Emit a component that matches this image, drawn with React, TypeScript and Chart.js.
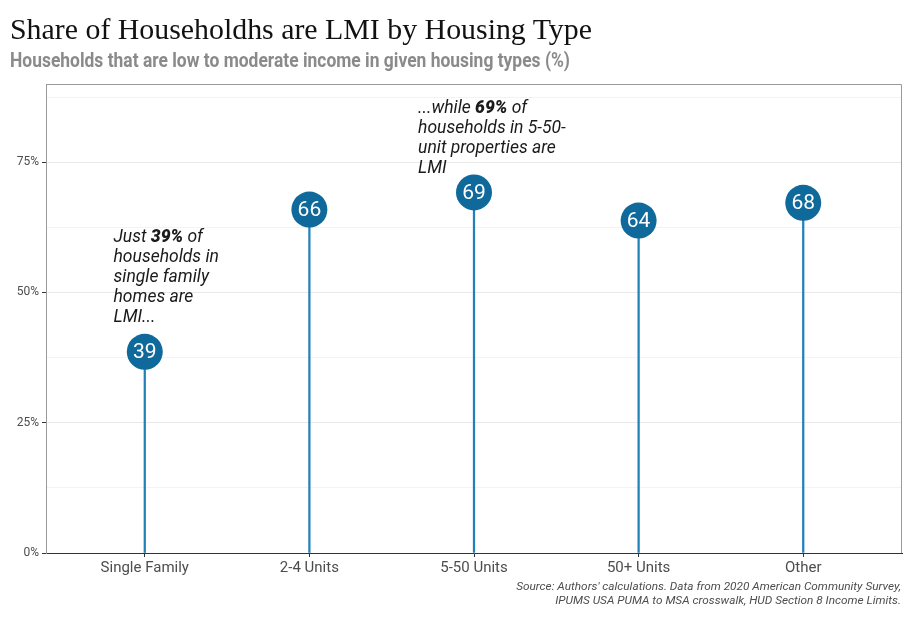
import React, { useEffect, useLayoutEffect, useRef } from "react";
import { Chart, registerables } from "chart.js";

Chart.register(...registerables);

// ---------- data ----------
const categories = ["Single Family", "2-4 Units", "5-50 Units", "50+ Units", "Other"];
const shares = [38.6, 65.9, 69.2, 63.8, 67.2];
const shareLabels = ["39", "66", "69", "64", "68"];
const yTickValues = [0, 12.5, 25, 37.5, 50, 62.5, 75, 87.5];
const yMajorStep = 25;
const yMax = 90;

const titleText = "Share of Householdhs are LMI by Housing Type";
const subtitleText = "Households that are low to moderate income in given housing types (%)";
const sourceLines = [
  "Source: Authors' calculations. Data from 2020 American Community Survey,",
  "IPUMS USA PUMA to MSA crosswalk, HUD Section 8 Income Limits.",
];

type Seg = [string, boolean];
const noteSingleFamily: Seg[][] = [
  [["Just ", false], ["39%", true], [" of", false]],
  [["households in", false]],
  [["single family", false]],
  [["homes are", false]],
  [["LMI...", false]],
];
const noteMidRise: Seg[][] = [
  [["...while ", false], ["69%", true], [" of", false]],
  [["households in 5-50-", false]],
  [["unit properties are", false]],
  [["LMI", false]],
];

// ---------- styles ----------
const FONT = "Roboto";
const DOT = "#0f6a9b";
const STEM = "#2281b9";

function FitText({ text, width, style, origin }: { text: string; width: number; style: React.CSSProperties; origin?: string }) {
  const ref = useRef<HTMLSpanElement>(null);
  useLayoutEffect(() => {
    const el = ref.current;
    if (!el) return;
    el.style.transform = "none";
    const w = el.getBoundingClientRect().width;
    if (w > 0) el.style.transform = `scaleX(${width / w})`;
  }, [text, width]);
  return (
    <span
      ref={ref}
      style={{ display: "inline-block", whiteSpace: "nowrap", transformOrigin: origin || "left center", ...style }}
    >
      {text}
    </span>
  );
}

export default function App() {
  const canvasRef = useRef<HTMLCanvasElement>(null);

  useEffect(() => {
    const canvas = canvasRef.current;
    if (!canvas) return;
    const pts = shares.map((v, i) => ({ x: i, y: v }));

    const framePlugin = {
      id: "frame",
      beforeDatasetsDraw(chart: any) {
        const { ctx, chartArea: a } = chart;
        ctx.save();
        ctx.strokeStyle = "#9a9a9a";
        ctx.lineWidth = 1;
        ctx.beginPath();
        ctx.moveTo(Math.round(a.left) + 0.5, Math.round(a.top) + 0.5);
        ctx.lineTo(Math.round(a.right) - 0.5, Math.round(a.top) + 0.5);
        ctx.lineTo(Math.round(a.right) - 0.5, Math.round(a.bottom));
        ctx.stroke();
        ctx.restore();
      },
    };

    const labelPlugin = {
      id: "dotLabels",
      afterDatasetsDraw(chart: any) {
        const { ctx } = chart;
        const meta = chart.getDatasetMeta(0);
        ctx.save();
        ctx.fillStyle = "#ffffff";
        ctx.font = `21px ${FONT}`;
        ctx.textAlign = "center";
        ctx.textBaseline = "middle";
        meta.data.forEach((el: any, i: number) => {
          ctx.fillText(shareLabels[i], el.x, el.y + 1);
        });
        // annotations
        const xs = chart.scales.x;
        const ys = chart.scales.y;
        const notes: { lines: Seg[][]; x: number; y: number }[] = [
          { lines: noteSingleFamily, x: -0.19, y: 59.7 },
          { lines: noteMidRise, x: 1.66, y: 84.5 },
        ];
        ctx.fillStyle = "#1a1a1a";
        ctx.textAlign = "left";
        ctx.textBaseline = "alphabetic";
        notes.forEach((n) => {
          const x0 = xs.getPixelForValue(n.x);
          const y0 = ys.getPixelForValue(n.y);
          n.lines.forEach((segs, li) => {
            let x = x0;
            segs.forEach(([t, b]) => {
              ctx.font = `italic ${b ? "900 " : ""}17.5px ${FONT}`;
              ctx.fillText(t, x, y0 + li * 20);
              x += ctx.measureText(t).width;
            });
          });
        });
        ctx.restore();
      },
    };

    const chart = new Chart(canvas, {
      type: "bar",
      data: {
        datasets: [
          {
            type: "scatter",
            data: pts,
            pointRadius: 18,
            pointHoverRadius: 18,
            backgroundColor: DOT,
            borderWidth: 0,
            clip: false,
            order: 0,
          } as any,
          {
            type: "bar",
            data: pts,
            backgroundColor: STEM,
            barThickness: 1.6,
            order: 1,
          } as any,
        ],
      },
      options: {
        animation: false,
        responsive: false,
        events: [],
        layout: { autoPadding: false, padding: { top: 84, right: 13, left: 0, bottom: 0 } },
        plugins: { legend: { display: false }, tooltip: { enabled: false } },
        scales: {
          x: {
            type: "linear",
            min: -0.6,
            max: 4.6,
            offset: false,
            afterBuildTicks: (s: any) => {
              s.ticks = categories.map((_, i) => ({ value: i }));
            },
            afterFit: (s: any) => {
              s.height = 65;
              s.paddingLeft = 0;
              s.paddingRight = 0;
            },
            ticks: {
              callback: (v: any) => categories[v as number],
              autoSkip: false,
              maxRotation: 0,
              padding: 2,
              color: "#4d4d4d",
              font: { family: FONT, size: 15 },
            },
            grid: { offset: false, drawOnChartArea: false, tickLength: 4, tickColor: "#333333" },
            border: { color: "#333333" },
          },
          y: {
            min: 0,
            max: yMax,
            afterBuildTicks: (s: any) => {
              s.ticks = yTickValues.map((v) => ({ value: v }));
            },
            afterFit: (s: any) => {
              s.width = 46;
              s.paddingTop = 0;
              s.paddingBottom = 0;
            },
            ticks: {
              callback: (v: any) => ((v as number) % yMajorStep === 0 ? `${v}%` : ""),
              padding: 3,
              color: "#4d4d4d",
              font: { family: FONT, size: 12 },
            },
            grid: {
              color: (c: any) => (c.tick && c.tick.value % yMajorStep === 0 ? "#e9e9e9" : "#f3f3f3"),
              tickColor: (c: any) => (c.tick && c.tick.value % yMajorStep === 0 ? "#333333" : "rgba(0,0,0,0)"),
              tickLength: 4,
            },
            border: { color: "#9a9a9a" },
          },
        },
      } as any,
      plugins: [framePlugin, labelPlugin],
    });
    return () => chart.destroy();
  }, []);

  return (
    <div style={{ position: "absolute", left: 0, top: 0, width: 915, height: 618, background: "#fff" }}>
      <canvas ref={canvasRef} width={915} height={618} style={{ position: "absolute", left: 0, top: 0 }} />
      <div style={{ position: "absolute", left: 10, top: 14, lineHeight: "30px" }}>
        <FitText
          text={titleText}
          width={582}
          style={{ fontFamily: "'Liberation Serif', serif", fontSize: 30, color: "#111" }}
        />
      </div>
      <div style={{ position: "absolute", left: 10, top: 50, lineHeight: "21px" }}>
        <FitText
          text={subtitleText}
          width={560}
          style={{ fontFamily: FONT, fontWeight: 700, fontSize: 21, color: "#8a8a8a" }}
        />
      </div>
      <div
        style={{
          position: "absolute",
          right: 14,
          top: 579,
          textAlign: "right",
          fontFamily: FONT,
          fontStyle: "italic",
          fontSize: 11.8,
          lineHeight: "14px",
          color: "#4d4d4d",
          whiteSpace: "nowrap",
        }}
      >
        {sourceLines.map((l) => (
          <div key={l}>{l}</div>
        ))}
      </div>
    </div>
  );
}
